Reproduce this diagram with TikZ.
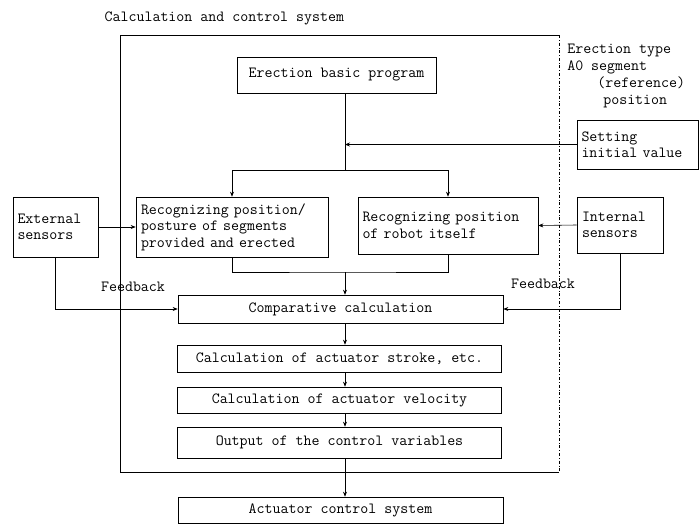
\documentclass[tikz,border=0pt]{standalone}
\usepackage{tikz}
\usetikzlibrary{calc,arrows.meta}

\begin{document}
\begin{tikzpicture}[x=1pt, y=-1pt, >={Stealth[length=5pt,width=4pt]}, line width=0.6pt,
    font=\ttfamily\fontsize{15.5}{16.5}\selectfont,
    box/.style={draw, inner sep=4pt, align=left},
    lowbox/.style={draw, minimum width=324pt, inner sep=0pt, align=center}]
    \useasboundingbox (0,0) rectangle (699,525);
    \node[anchor=west] (title) at (101,18) {Calculation and control system};
    \draw (559,35) -- (120,35) -- (120,472) -- (559,472);
    \draw[dash dot] (559,35) -- (559,472);
    \node[anchor=north west, align=left, inner sep=0pt, font=\ttfamily\fontsize{15.5}{17}\selectfont] (type) at (567,44)
        {Erection type\\A0 segment\\\hspace*{30pt}(reference)\\\hspace*{36pt}position};
    \node[box, minimum width=199pt, minimum height=36pt] (prog) at (336.5,75) {Erection basic program};
    \node[box, minimum width=121pt, minimum height=49pt, text width=112pt] (init) at (637.5,144.5) {Setting\\initial value};
    \node[box, minimum width=85pt, minimum height=60pt, text width=76pt] (ext) at (55.5,227) {External\\sensors};
    \node[box, minimum width=192pt, minimum height=60pt, text width=182pt] (rec1) at (232,227) {Recognizing position/\\posture of segments\\provided and erected};
    \node[box, minimum width=180pt, minimum height=57pt, text width=171pt] (rec2) at (448,225.5) {Recognizing position\\of robot itself};
    \node[box, minimum width=86pt, minimum height=56pt, text width=76pt] (int) at (620,225) {Internal\\sensors};
    \node[lowbox, minimum width=325pt, minimum height=28pt] (comp) at (340.5,309) {Comparative calculation};
    \node[lowbox, minimum height=27pt] (stroke) at (339.5,358.5) {Calculation of actuator stroke, etc.};
    \node[lowbox, minimum height=26pt] (vel) at (339.5,400) {Calculation of actuator velocity};
    \node[lowbox, minimum height=31pt] (out) at (339.5,442.5) {Output of the control variables};
    \node[lowbox, minimum width=325pt, minimum height=26pt] (act) at (340.5,510) {Actuator control system};
    \node (fbleft) at (133,287) {Feedback};
    \node (fbright) at (543,284) {Feedback};
    \coordinate (split) at (345,170);
    \coordinate (merge) at (345,272);
    \draw (split |- prog.south) -- (split);
    \draw[->] (init.west) -- (split |- init.west);
    \draw[->] (split) -| (rec1.north);
    \draw[->] (split) -| (rec2.north);
    \draw (rec1.south) |- (merge) -| (rec2.south);
    \draw[->] (merge) -- (merge |- comp.north);
    \draw[->] (ext.east) -- (rec1.west);
    \draw[->] (int.west) -- (rec2.east);
    \draw[->] (ext.south) |- (comp.west);
    \draw[->] (int.south) |- (comp.east);
    \foreach \a/\b in {comp/stroke, stroke/vel, vel/out, out/act}
        \draw[->] (merge |- \a.south) -- (merge |- \b.north);
\end{tikzpicture}
\end{document}
